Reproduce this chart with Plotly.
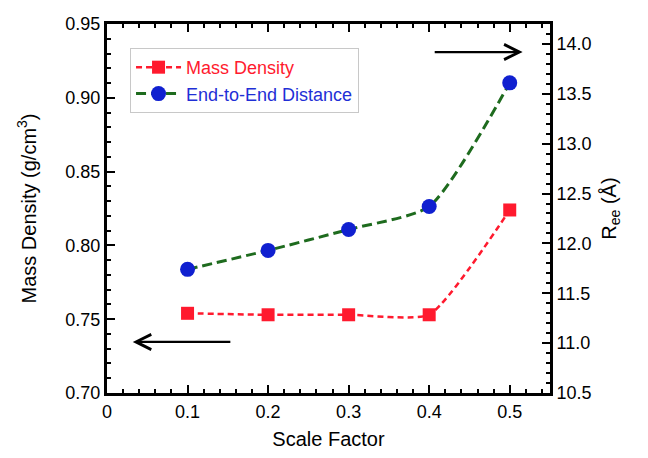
import plotly.graph_objects as go

scale_factor = [0.1, 0.2, 0.3, 0.4, 0.5]
mass_density = [0.754, 0.753, 0.753, 0.753, 0.824]
end_to_end = [11.74, 11.93, 12.14, 12.37, 13.61]

x_ticks = [0, 0.1, 0.2, 0.3, 0.4, 0.5]
x_ticklabels = ["0", "0.1", "0.2", "0.3", "0.4", "0.5"]
y_ticks = [0.70, 0.75, 0.80, 0.85, 0.90, 0.95]
y2_ticks = [10.5, 11.0, 11.5, 12.0, 12.5, 13.0, 13.5, 14.0]

font_family = "Liberation Sans, Arial, sans-serif"

fig = go.Figure()
fig.add_trace(go.Scatter(
    x=scale_factor, y=mass_density, mode="lines+markers",
    name='<span style="color:#ff1a2e">Mass Density</span>',
    line=dict(color="#ff1a2e", dash="6px,4px", width=2.5, shape="spline", smoothing=0.5),
    marker=dict(symbol="square", size=13, color="#ff1a2e"),
))
fig.add_trace(go.Scatter(
    x=scale_factor, y=end_to_end, mode="lines+markers", yaxis="y2",
    name='<span style="color:#1f2fd6">End-to-End Distance</span>',
    line=dict(color="#1e6b1e", dash="10px,5px", width=3, shape="spline", smoothing=0.6),
    marker=dict(symbol="circle", size=15, color="#1020d0"),
))

# direction arrows
fig.add_annotation(x=0.032, y=0.7346, ax=0.155, ay=0.7346, xref="x", yref="y",
                   axref="x", ayref="y", showarrow=True, arrowhead=5, arrowsize=1.3,
                   arrowwidth=2.3, arrowcolor="black", text="")
fig.add_annotation(x=0.516, y=0.931, ax=0.405, ay=0.931, xref="x", yref="y",
                   axref="x", ayref="y", showarrow=True, arrowhead=5, arrowsize=1.3,
                   arrowwidth=2.3, arrowcolor="black", text="")

# page body has an 8px margin, so the figure is sized/offset to compensate
fig.update_layout(
    width=640, height=450,
    margin=dict(l=99, r=98, t=16, b=65),
    paper_bgcolor="white", plot_bgcolor="white",
    font=dict(family=font_family, size=18, color="black"),
    showlegend=True,
    legend=dict(x=0.052, y=0.935, xanchor="left", yanchor="top",
                bgcolor="white", bordercolor="#c8c8c8", borderwidth=1,
                font=dict(size=18), itemwidth=45, tracegroupgap=0),
    xaxis=dict(
        range=[0, 0.55], tickvals=x_ticks, ticktext=x_ticklabels, automargin=False,
        title=dict(text="Scale Factor", font=dict(size=20), standoff=12),
        showline=True, linecolor="black", linewidth=3, mirror="ticks",
        ticks="inside", ticklen=8, tickwidth=2, tickcolor="black",
        minor=dict(dtick=0.02, ticks="inside", ticklen=4, tickwidth=2, tickcolor="black"),
        showgrid=False, zeroline=False,
    ),
    yaxis=dict(
        range=[0.70, 0.95], tickvals=y_ticks, tickformat=".2f", automargin=False,
        title=dict(text="Mass Density (g/cm<sup>3</sup>)", font=dict(size=20), standoff=24),
        showline=True, linecolor="black", linewidth=3,
        ticks="inside", ticklen=8, tickwidth=2, tickcolor="black",
        minor=dict(dtick=0.01, ticks="inside", ticklen=4, tickwidth=2, tickcolor="black"),
        showgrid=False, zeroline=False,
    ),
    yaxis2=dict(
        range=[10.5, 14.2], tickvals=y2_ticks, tickformat=".1f", automargin=False,
        overlaying="y", side="right",
        title=dict(text="R<sub>ee</sub> (Å)", font=dict(size=20), standoff=12),
        showline=True, linecolor="black", linewidth=3,
        ticks="inside", ticklen=8, tickwidth=2, tickcolor="black",
        minor=dict(dtick=0.1, ticks="inside", ticklen=4, tickwidth=2, tickcolor="black"),
        showgrid=False, zeroline=False,
    ),
)

fig.write_html("out.html")
